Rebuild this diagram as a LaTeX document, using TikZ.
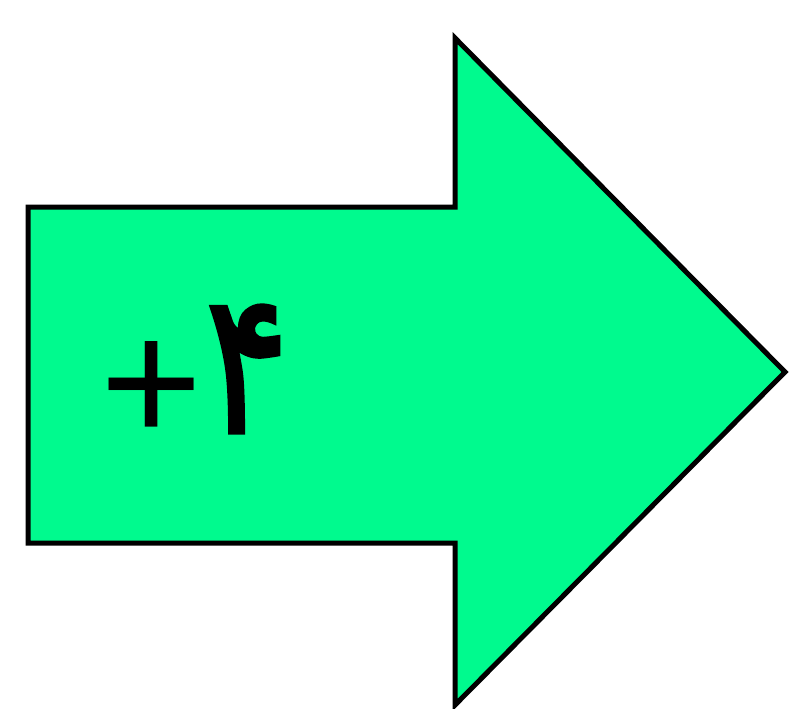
\documentclass[tikz,border=0pt]{standalone}
\usepackage{fontspec}
\newfontfamily\arabicfont[Script=Arabic,FakeBold=2]{DejaVu Sans}
\newfontfamily\plusfont{Liberation Sans}
\definecolor{arrowgreen}{RGB}{0,250,142}
\begin{document}
\begin{tikzpicture}[x=1pt,y=-1pt,
  arrowshape/.style={draw=black,fill=arrowgreen,line width=5pt,line join=miter},
  labeltext/.style={inner sep=0pt,text=black}]
\useasboundingbox (0,0) rectangle (792,709);
\draw[arrowshape] (28,207) -- (455,207) -- (455,38) -- (785,372) -- (455,705) -- (455,543) -- (28,543) -- cycle;
\node[labeltext,font=\plusfont\fontsize{175}{175}\selectfont] (plus) at (152,392) {+};
\node[labeltext,font=\arabicfont\fontsize{165}{165}\selectfont,yscale=1.2,xscale=0.95,transform shape] (four) at (247,369) {۴};
\end{tikzpicture}
\end{document}
